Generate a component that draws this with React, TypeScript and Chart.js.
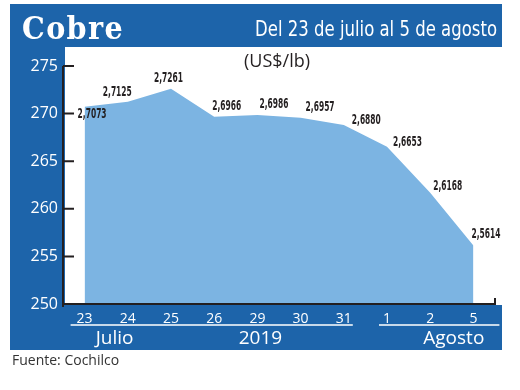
import React, { useEffect, useRef } from "react";
import { Chart, registerables } from "chart.js";

Chart.register(...registerables);

const days = ["23", "24", "25", "26", "29", "30", "31", "1", "2", "5"];
const prices = [270.73, 271.25, 272.61, 269.66, 269.86, 269.57, 268.8, 266.53, 261.68, 256.14];
const priceLabels = ["2,7073", "2,7125", "2,7261", "2,6966", "2,6986", "2,6957", "2,6880", "2,6653", "2,6168", "2,5614"];
const yTicks = { min: 250, max: 275, step: 5 };

const BLUE = "#1d64aa";
const AREA = "#7cb4e2";
const INK = "#231f20";

// label offsets relative to each point (dx = left edge, dy = text centre)
const labelDx = [-7, -25, -17, -2, 2, 5, 8, 6, 3, -2];
const labelDy = [8, -9, -10, -10, -11, -10, -5, -4, -6, -11];

const decor = {
  id: "decor",
  beforeDraw(chart: any) {
    const ctx = chart.ctx;
    ctx.save();
    ctx.fillStyle = "#ffffff";
    ctx.fillRect(0, 0, chart.width, chart.height);
    ctx.fillStyle = BLUE;
    ctx.fillRect(10, 4, 492, 346);
    ctx.fillStyle = "#ffffff";
    ctx.fillRect(65, 47, 437, 258);

    // title
    ctx.fillStyle = "#ffffff";
    ctx.textBaseline = "alphabetic";
    ctx.textAlign = "left";
    ctx.font = "bold 31px 'DejaVu Serif', serif";
    (ctx as any).letterSpacing = "1.5px";
    ctx.fillText("Cobre", 22, 39, 102);
    (ctx as any).letterSpacing = "0px";
    ctx.textAlign = "right";
    ctx.font = "21px 'Liberation Sans Narrow', 'DejaVu Sans Condensed', sans-serif";
    ctx.fillText("Del 23 de julio al 5 de agosto", 497, 36, 242);

    // unit
    ctx.fillStyle = INK;
    ctx.textAlign = "center";
    ctx.textBaseline = "middle";
    ctx.font = "18px 'Open Sans', sans-serif";
    ctx.fillText("(US$/lb)", 277, 62);

    // footnote
    ctx.fillStyle = "#333333";
    ctx.textAlign = "left";
    ctx.font = "14px 'Open Sans', sans-serif";
    ctx.fillText("Fuente: Cochilco", 12, 361);
    ctx.restore();
  },
  afterDatasetsDraw(chart: any) {
    const ctx = chart.ctx;
    const { left, right, bottom } = chart.chartArea;
    const ys = chart.scales.y;
    const xs = chart.scales.x;
    ctx.save();
    // axes
    ctx.strokeStyle = INK;
    ctx.lineWidth = 2;
    ctx.beginPath();
    ctx.moveTo(left, ys.getPixelForValue(yTicks.max));
    ctx.lineTo(left, bottom + 3);
    ctx.moveTo(left, bottom);
    ctx.lineTo(right, bottom);
    ctx.lineTo(right, bottom - 6);
    for (let v = yTicks.min; v <= yTicks.max; v += yTicks.step) {
      const y = ys.getPixelForValue(v);
      ctx.moveTo(left, y);
      ctx.lineTo(left + 11, y);
    }
    ctx.stroke();

    // data labels
    const meta = chart.getDatasetMeta(0);
    ctx.fillStyle = INK;
    ctx.textAlign = "left";
    ctx.textBaseline = "middle";
    ctx.font = "bold 14px 'Liberation Sans Narrow', 'DejaVu Sans Condensed', sans-serif";
    meta.data.forEach((pt: any, i: number) => {
      ctx.fillText(priceLabels[i], pt.x + labelDx[i], pt.y + labelDy[i], 29);
    });

    // month strip
    const px = (i: number) => xs.getPixelForValue(i);
    ctx.strokeStyle = "#ffffff";
    ctx.lineWidth = 1.5;
    ctx.beginPath();
    ctx.moveTo(px(0) - 14, bottom + 21);
    ctx.lineTo(px(6) + 9, bottom + 21);
    ctx.moveTo(px(7) - 8, bottom + 21);
    ctx.lineTo(px(9) + 26, bottom + 21);
    ctx.stroke();
    ctx.fillStyle = "#ffffff";
    ctx.textAlign = "center";
    ctx.font = "19px 'Open Sans', sans-serif";
    ctx.fillText("Julio", px(0) + 30, bottom + 35);
    ctx.fillText("2019", px(4) + 3, bottom + 35);
    ctx.fillText("Agosto", (px(8) + px(9)) / 2 + 2, bottom + 35);
    ctx.restore();
  },
};

export default function App() {
  const ref = useRef<HTMLCanvasElement | null>(null);
  useEffect(() => {
    if (!ref.current) return;
    const chart = new Chart(ref.current, {
      type: "line",
      data: {
        labels: days,
        datasets: [
          {
            data: prices,
            fill: "start",
            backgroundColor: AREA,
            borderWidth: 0,
            pointRadius: 0,
            tension: 0,
          },
        ],
      },
      options: {
        animation: false,
        responsive: false,
        devicePixelRatio: 1,
        layout: { padding: { left: 10, right: 25, top: 66, bottom: 0 } },
        plugins: { legend: { display: false }, tooltip: { enabled: false } },
        scales: {
          x: {
            type: "category",
            offset: true,
            grid: { display: false, drawTicks: false },
            border: { display: false },
            ticks: {
              color: "#ffffff",
              font: { family: "'Open Sans', sans-serif", size: 14 },
              padding: 7,
              maxRotation: 0,
              autoSkip: false,
            },
            afterFit: (s: any) => {
              s.height = 86;
            },
          },
          y: {
            min: yTicks.min,
            max: yTicks.max,
            grid: { display: false, drawTicks: false },
            border: { display: false },
            ticks: {
              stepSize: yTicks.step,
              color: "#ffffff",
              font: { family: "'Open Sans', sans-serif", size: 16 },
              padding: 5,
            },
            afterFit: (s: any) => {
              s.width = 53;
            },
          },
        },
      },
      plugins: [decor],
    });
    return () => chart.destroy();
  }, []);
  return (
    <div style={{ position: "fixed", left: 0, top: 0, width: 520, height: 390 }}>
      <canvas ref={ref} width={520} height={390} />
    </div>
  );
}
